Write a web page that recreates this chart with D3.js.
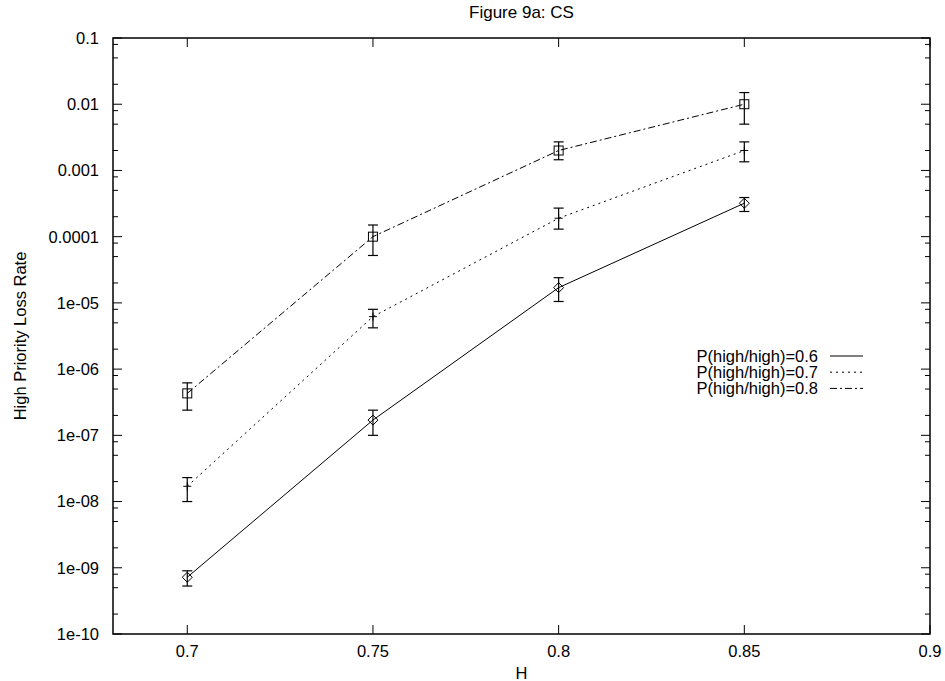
<!DOCTYPE html>
<html>
<head>
<meta charset="utf-8">
<script src="https://cdn.jsdelivr.net/npm/d3@7"></script>
<style>
  html, body { margin: 0; padding: 0; background: #fff; }
  svg text { font-family: "Liberation Sans", Arial, Helvetica, sans-serif; fill: #000; }
</style>
</head>
<body>
<svg id="chart" width="945" height="681"></svg>
<script>
// Hurst parameter on the x axis
const H = [0.7, 0.75, 0.8, 0.85];

// High priority loss rate, mean and confidence interval, per P(high/high)
const p06    = [7.2e-10, 1.7e-7, 1.7e-5, 3.2e-4];
const p06Lo  = [5.3e-10, 1.0e-7, 1.05e-5, 2.4e-4];
const p06Hi  = [9.0e-10, 2.4e-7, 2.4e-5, 3.9e-4];

const p07    = [1.7e-8, 6.2e-6, 1.9e-4, 2.0e-3];
const p07Lo  = [1.0e-8, 4.2e-6, 1.3e-4, 1.35e-3];
const p07Hi  = [2.3e-8, 8.0e-6, 2.7e-4, 2.7e-3];

const p08    = [4.3e-7, 1.0e-4, 2.0e-3, 1.0e-2];
const p08Lo  = [2.4e-7, 5.2e-5, 1.45e-3, 5.0e-3];
const p08Hi  = [6.2e-7, 1.5e-4, 2.7e-3, 1.5e-2];

const seriesNames = ["P(high/high)=0.6", "P(high/high)=0.7", "P(high/high)=0.8"];

const xTicks = [0.7, 0.75, 0.8, 0.85, 0.9];
const xTickLabels = ["0.7", "0.75", "0.8", "0.85", "0.9"];
const yTicks = [1e-1, 1e-2, 1e-3, 1e-4, 1e-5, 1e-6, 1e-7, 1e-8, 1e-9, 1e-10];
const yTickLabels = ["0.1", "0.01", "0.001", "0.0001", "1e-05", "1e-06", "1e-07", "1e-08", "1e-09", "1e-10"];
const yMinorMantissas = [2, 5, 8];

(function draw() {
  const svg = d3.select("#chart");
  const pl = 113, pr = 930, pt = 38, pb = 634;

  const x = d3.scaleLinear().domain([0.68, 0.9]).range([pl, pr]);
  const y = d3.scaleLog().domain([1e-10, 1e-1]).range([pb, pt]);

  // Tick marks (inside the frame, mirrored on opposite sides)
  const ticks = svg.append("g").attr("stroke", "#000").attr("stroke-width", 1);
  const majorLen = 9, minorLen = 5;
  yTicks.forEach(v => {
    const yy = y(v);
    ticks.append("line").attr("x1", pl).attr("x2", pl + majorLen).attr("y1", yy).attr("y2", yy);
    ticks.append("line").attr("x1", pr).attr("x2", pr - majorLen).attr("y1", yy).attr("y2", yy);
  });
  yTicks.forEach(v => {
    yMinorMantissas.forEach(m => {
      const val = v * m / 10;
      if (val <= 1e-10) return;
      const yy = y(val);
      ticks.append("line").attr("x1", pl).attr("x2", pl + minorLen).attr("y1", yy).attr("y2", yy);
      ticks.append("line").attr("x1", pr).attr("x2", pr - minorLen).attr("y1", yy).attr("y2", yy);
    });
  });
  xTicks.forEach(v => {
    const xx = x(v);
    ticks.append("line").attr("x1", xx).attr("x2", xx).attr("y1", pb).attr("y2", pb - majorLen);
    ticks.append("line").attr("x1", xx).attr("x2", xx).attr("y1", pt).attr("y2", pt + majorLen);
  });

  // Frame
  svg.append("rect")
    .attr("x", pl).attr("y", pt)
    .attr("width", pr - pl).attr("height", pb - pt)
    .attr("fill", "none").attr("stroke", "#000").attr("stroke-width", 1.5);

  // Tick labels
  const fs = 16.5;
  yTicks.forEach((v, i) => {
    svg.append("text")
      .attr("x", 99).attr("y", y(v))
      .attr("dy", "0.36em")
      .attr("text-anchor", "end")
      .attr("font-size", fs)
      .text(yTickLabels[i]);
  });
  xTicks.forEach((v, i) => {
    svg.append("text")
      .attr("x", x(v)).attr("y", 657)
      .attr("text-anchor", "middle")
      .attr("font-size", fs)
      .text(xTickLabels[i]);
  });

  // Title and axis labels
  svg.append("text")
    .attr("x", (pl + pr) / 2).attr("y", 18)
    .attr("text-anchor", "middle").attr("font-size", 17)
    .text("Figure 9a: CS");
  svg.append("text")
    .attr("x", (pl + pr) / 2).attr("y", 679)
    .attr("text-anchor", "middle").attr("font-size", fs)
    .text("H");
  svg.append("text")
    .attr("transform", `translate(26, ${(pt + pb) / 2}) rotate(-90)`)
    .attr("text-anchor", "middle").attr("font-size", fs)
    .text("High Priority Loss Rate");

  // Series
  const dashes = [null, "2,4", "7,3,2,3"];
  const series = [
    { name: seriesNames[0], v: p06, lo: p06Lo, hi: p06Hi, marker: "diamond" },
    { name: seriesNames[1], v: p07, lo: p07Lo, hi: p07Hi, marker: "plus" },
    { name: seriesNames[2], v: p08, lo: p08Lo, hi: p08Hi, marker: "square" }
  ];

  const line = d3.line().x(d => x(d[0])).y(d => y(d[1]));
  const capW = 5;

  series.forEach((s, si) => {
    const pts = H.map((h, i) => [h, s.v[i]]);
    const g = svg.append("g");
    g.append("path")
      .attr("d", line(pts))
      .attr("fill", "none").attr("stroke", "#000").attr("stroke-width", 1)
      .attr("stroke-dasharray", dashes[si]);

    H.forEach((h, i) => {
      const cx = x(h);
      const yl = y(s.lo[i]), yh = y(s.hi[i]), cy = y(s.v[i]);
      const eg = g.append("g").attr("stroke", "#000").attr("stroke-width", 1.2).attr("fill", "none");
      eg.append("line").attr("x1", cx).attr("x2", cx).attr("y1", yl).attr("y2", yh);
      eg.append("line").attr("x1", cx - capW).attr("x2", cx + capW).attr("y1", yl).attr("y2", yl);
      eg.append("line").attr("x1", cx - capW).attr("x2", cx + capW).attr("y1", yh).attr("y2", yh);

      if (s.marker === "diamond") {
        const r = 5;
        eg.append("path").attr("stroke-width", 1)
          .attr("d", `M${cx},${cy - r}L${cx + r},${cy}L${cx},${cy + r}L${cx - r},${cy}Z`);
      } else if (s.marker === "square") {
        const r = 4.5;
        eg.append("rect").attr("stroke-width", 1)
          .attr("x", cx - r).attr("y", cy - r).attr("width", 2 * r).attr("height", 2 * r);
      } else {
        const r = 4;
        eg.append("line").attr("stroke-width", 1).attr("x1", cx - r).attr("x2", cx + r).attr("y1", cy).attr("y2", cy);
        eg.append("line").attr("stroke-width", 1).attr("x1", cx).attr("x2", cx).attr("y1", cy - r).attr("y2", cy + r);
      }
    });
  });

  // Legend
  const legendTextX = 818, legendLineX1 = 830, legendLineX2 = 863, legendY0 = 356, legendDy = 16.2;
  series.forEach((s, si) => {
    const yy = legendY0 + si * legendDy;
    svg.append("text")
      .attr("x", legendTextX).attr("y", yy).attr("dy", "0.36em")
      .attr("text-anchor", "end").attr("font-size", fs)
      .text(s.name);
    svg.append("line")
      .attr("x1", legendLineX1).attr("x2", legendLineX2).attr("y1", yy).attr("y2", yy)
      .attr("stroke", "#000").attr("stroke-width", 1)
      .attr("stroke-dasharray", dashes[si]);
  });
})();
</script>
</body>
</html>
